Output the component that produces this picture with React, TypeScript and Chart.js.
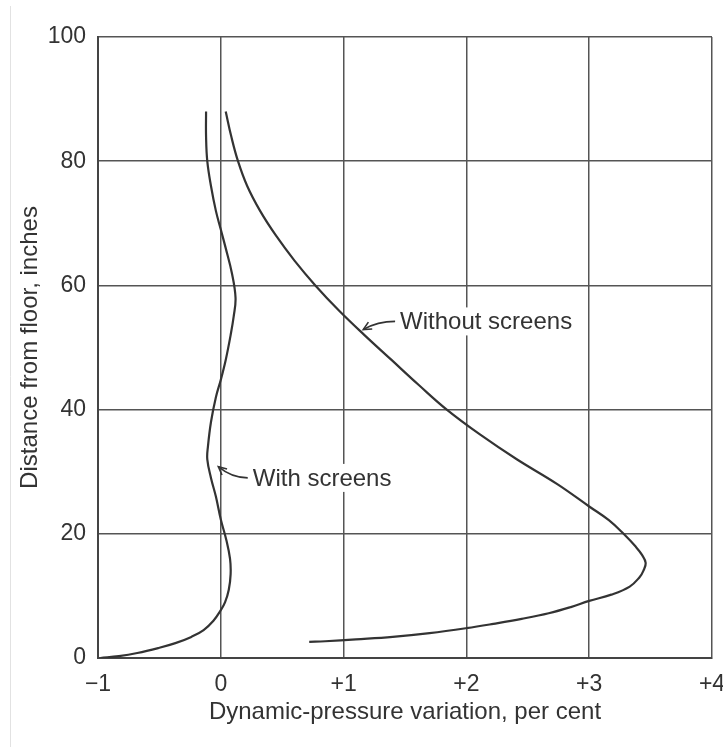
import React, { useEffect, useRef } from 'react';
import { Chart, registerables } from 'chart.js';

Chart.register(...registerables);

// ---- data ----
const xTickValues = [-1, 0, 1, 2, 3, 4];
const xTickLabels = ['\u22121', '0', '+1', '+2', '+3', '+4'];
const yTickValues = [0, 20, 40, 60, 80, 100];

const withoutScreensX = [0.04, 0.085, 0.14, 0.215, 0.32, 0.45, 0.6, 0.77, 0.96, 1.17, 1.39, 1.61, 1.84, 2.11, 2.41, 2.74, 3.0, 3.16, 3.28, 3.38, 3.43, 3.46, 3.44, 3.41, 3.33, 3.18, 3.0, 2.85, 2.67, 2.45, 2.22, 2.0, 1.7, 1.4, 1.1, 0.85, 0.72];
const withoutScreensY = [88, 84, 80, 76, 72, 68, 64, 60, 56, 52, 48, 44, 40, 36, 32, 28, 24.4, 22.2, 20, 17.9, 16.6, 15.3, 14, 13.0, 11.5, 10.2, 9.2, 8.2, 7.2, 6.3, 5.5, 4.8, 4.0, 3.4, 3.0, 2.7, 2.6];

const withScreensX = [-0.12, -0.12, -0.11, -0.08, -0.04, 0, 0.04, 0.09, 0.12, 0.105, 0.08, 0.04, 0, -0.04, -0.08, -0.105, -0.11, -0.08, -0.04, 0, 0.045, 0.075, 0.08, 0.065, 0.035, 0, -0.06, -0.14, -0.24, -0.37, -0.51, -0.68, -0.83, -0.98];
const withScreensY = [88, 84, 80, 76, 72, 69, 66, 62, 58, 55, 52, 48, 44.8, 42, 38, 34, 32, 29, 26, 22.3, 19, 16, 13.5, 11, 9, 7.7, 6, 4.5, 3.4, 2.4, 1.6, 0.8, 0.3, 0];

const xTitle = 'Dynamic-pressure variation, per cent';
const yTitle = 'Distance from floor, inches';

// annotation anchors (data coordinates)
const annotationTexts = ['Without screens', 'With screens'];
const annotationTextAt = [[1.46, 54.2], [0.26, 29.0]];
const annotationTipAt = [[1.16, 52.9], [-0.02, 30.8]];

const INK = '#333333';
const GRID = '#555555';
const FONT = '"Liberation Sans", Arial, sans-serif';

const toPoints = (xs: number[], ys: number[]) => xs.map((x, i) => ({ x, y: ys[i] }));

const annotationPlugin = {
  id: 'arrowLabels',
  beforeDraw(chart: any) {
    const ctx = chart.ctx;
    ctx.save();
    ctx.strokeStyle = '#e2e2e2';
    ctx.lineWidth = 1;
    ctx.beginPath();
    ctx.moveTo(10.5, 6);
    ctx.lineTo(10.5, 747);
    ctx.stroke();
    ctx.restore();
  },
  afterDatasetsDraw(chart: any) {
    const ctx = chart.ctx;
    const xs = chart.scales.x;
    const ys = chart.scales.y;
    ctx.save();
    ctx.font = `24px ${FONT}`;
    annotationTexts.forEach((text, i) => {
      const tx = xs.getPixelForValue(annotationTextAt[i][0]);
      const ty = ys.getPixelForValue(annotationTextAt[i][1]);
      const px = xs.getPixelForValue(annotationTipAt[i][0]);
      const py = ys.getPixelForValue(annotationTipAt[i][1]);
      const w = ctx.measureText(text).width;
      ctx.fillStyle = '#ffffff';
      ctx.fillRect(tx - 2, ty - 14, w + 4, 28);
      ctx.fillStyle = INK;
      ctx.textBaseline = 'middle';
      ctx.textAlign = 'left';
      ctx.fillText(text, tx, ty + 1);
      // curved arrow
      const sx = tx - 5;
      const sy = ty;
      const cx = px + 0.45 * (sx - px);
      const cy = sy;
      ctx.strokeStyle = INK;
      ctx.lineWidth = 1.6;
      ctx.beginPath();
      ctx.moveTo(sx, sy);
      ctx.quadraticCurveTo(cx, cy, px, py);
      ctx.stroke();
      const ang = Math.atan2(py - cy, px - cx);
      const L = 9;
      const spread = 0.45;
      ctx.beginPath();
      ctx.moveTo(px - L * Math.cos(ang - spread), py - L * Math.sin(ang - spread));
      ctx.lineTo(px, py);
      ctx.lineTo(px - L * Math.cos(ang + spread), py - L * Math.sin(ang + spread));
      ctx.stroke();
    });
    ctx.restore();
  },
};

export default function App() {
  const ref = useRef<HTMLCanvasElement | null>(null);

  useEffect(() => {
    if (!ref.current) return;
    const chart = new Chart(ref.current, {
      type: 'scatter',
      data: {
        datasets: [
          {
            label: 'Without screens',
            data: toPoints(withoutScreensX, withoutScreensY),
            showLine: true,
            borderColor: INK,
            borderWidth: 2.2,
            pointRadius: 0,
            tension: 0.4,
            fill: false,
          },
          {
            label: 'With screens',
            data: toPoints(withScreensX, withScreensY),
            showLine: true,
            borderColor: INK,
            borderWidth: 2.2,
            pointRadius: 0,
            tension: 0.4,
            fill: false,
          },
        ],
      },
      options: {
        responsive: false,
        animation: false,
        layout: { padding: { top: 37, right: 11, bottom: 0, left: 0 } },
        plugins: {
          legend: { display: false },
          tooltip: { enabled: false },
        },
        scales: {
          x: {
            type: 'linear',
            min: xTickValues[0],
            max: xTickValues[xTickValues.length - 1],
            afterBuildTicks: (scale: any) => {
              scale.ticks = xTickValues.map((v) => ({ value: v }));
            },
            afterFit: (scale: any) => {
              scale.height = 89;
              scale.paddingLeft = 0;
              scale.paddingRight = 0;
            },
            ticks: {
              callback: (v: any) => {
                const i = xTickValues.indexOf(Number(v));
                return i >= 0 ? xTickLabels[i] : '';
              },
              color: INK,
              font: { family: FONT, size: 23 },
              padding: 13,
              maxRotation: 0,
              autoSkip: false,
            },
            grid: { color: GRID, lineWidth: 1.5, drawTicks: false },
            border: { display: true, color: '#444', width: 2 },
            title: {
              display: true,
              text: xTitle,
              color: INK,
              font: { family: FONT, size: 24 },
              padding: { top: 0, bottom: 20 },
            },
          },
          y: {
            type: 'linear',
            min: yTickValues[0],
            max: yTickValues[yTickValues.length - 1],
            afterBuildTicks: (scale: any) => {
              scale.ticks = yTickValues.map((v) => ({ value: v }));
            },
            afterFit: (scale: any) => {
              scale.width = 98;
              scale.paddingTop = 0;
              scale.paddingBottom = 0;
            },
            ticks: {
              color: INK,
              font: { family: FONT, size: 23 },
              padding: 12,
              autoSkip: false,
            },
            grid: { color: GRID, lineWidth: 1.5, drawTicks: false },
            border: { display: true, color: '#444', width: 2 },
            title: {
              display: true,
              text: yTitle,
              color: INK,
              font: { family: FONT, size: 24 },
              padding: { top: 16, bottom: 0 },
            },
          },
        },
      },
      plugins: [annotationPlugin],
    } as any);
    return () => chart.destroy();
  }, []);

  return (
    <div style={{ position: 'absolute', left: 0, top: 0, width: 723, height: 747, background: '#fff' }}>
      <canvas ref={ref} width={723} height={747} />
    </div>
  );
}
